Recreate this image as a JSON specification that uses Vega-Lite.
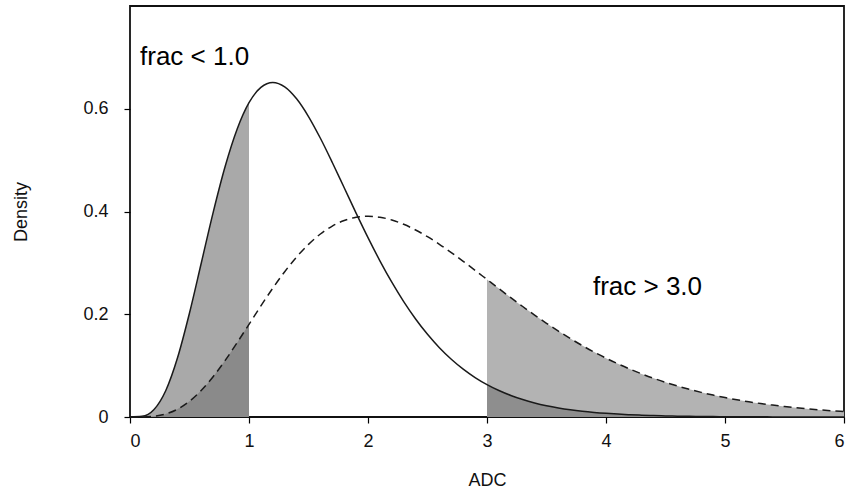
{
  "$schema": "https://vega.github.io/schema/vega-lite/v6.json",
  "width": 714,
  "height": 411,
  "autosize": {"type": "none"},
  "padding": {"left": 130, "top": 6, "right": 7, "bottom": 77},
  "background": "white",
  "config": {
    "view": {"stroke": "#111111", "strokeWidth": 1.8},
    "font": "Liberation Sans"
  },
  "datasets": {
    "curves": [
      {"x": 0.0, "solid": 0, "dashed": 0},
      {"x": 0.1, "solid": 0.00123, "dashed": 0.00011},
      {"x": 0.2, "solid": 0.01409, "dashed": 0.00143},
      {"x": 0.3, "solid": 0.05109, "dashed": 0.00593},
      {"x": 0.4, "solid": 0.11571, "dashed": 0.01534},
      {"x": 0.5, "solid": 0.20242, "dashed": 0.03066},
      {"x": 0.6, "solid": 0.30075, "dashed": 0.05205},
      {"x": 0.7, "solid": 0.39923, "dashed": 0.07894},
      {"x": 0.8, "solid": 0.488, "dashed": 0.11026},
      {"x": 0.9, "solid": 0.5601, "dashed": 0.1446},
      {"x": 1.0, "solid": 0.6117, "dashed": 0.18045},
      {"x": 1.1, "solid": 0.6417, "dashed": 0.2163},
      {"x": 1.2, "solid": 0.65124, "dashed": 0.25082},
      {"x": 1.3, "solid": 0.64271, "dashed": 0.28284},
      {"x": 1.4, "solid": 0.61943, "dashed": 0.31148},
      {"x": 1.5, "solid": 0.58489, "dashed": 0.33606},
      {"x": 1.6, "solid": 0.54252, "dashed": 0.35618},
      {"x": 1.7, "solid": 0.49542, "dashed": 0.37165},
      {"x": 1.8, "solid": 0.44619, "dashed": 0.38245},
      {"x": 1.9, "solid": 0.39688, "dashed": 0.38872},
      {"x": 2.0, "solid": 0.34914, "dashed": 0.39073},
      {"x": 2.1, "solid": 0.30409, "dashed": 0.38886},
      {"x": 2.2, "solid": 0.26245, "dashed": 0.38346},
      {"x": 2.3, "solid": 0.22464, "dashed": 0.37506},
      {"x": 2.4, "solid": 0.19084, "dashed": 0.36406},
      {"x": 2.5, "solid": 0.16099, "dashed": 0.35093},
      {"x": 2.6, "solid": 0.13495, "dashed": 0.33612},
      {"x": 2.7, "solid": 0.11246, "dashed": 0.32004},
      {"x": 2.8, "solid": 0.0932, "dashed": 0.30306},
      {"x": 2.9, "solid": 0.07684, "dashed": 0.28552},
      {"x": 3.0, "solid": 0.06306, "dashed": 0.26771},
      {"x": 3.1, "solid": 0.05151, "dashed": 0.2499},
      {"x": 3.2, "solid": 0.04191, "dashed": 0.23231},
      {"x": 3.3, "solid": 0.03396, "dashed": 0.21511},
      {"x": 3.4, "solid": 0.02742, "dashed": 0.19845},
      {"x": 3.5, "solid": 0.02206, "dashed": 0.18245},
      {"x": 3.6, "solid": 0.0177, "dashed": 0.1672},
      {"x": 3.7, "solid": 0.01415, "dashed": 0.15275},
      {"x": 3.8, "solid": 0.01128, "dashed": 0.13913},
      {"x": 3.9, "solid": 0.00897, "dashed": 0.12638},
      {"x": 4.0, "solid": 0.00711, "dashed": 0.1145},
      {"x": 4.1, "solid": 0.00562, "dashed": 0.10348},
      {"x": 4.2, "solid": 0.00444, "dashed": 0.0933},
      {"x": 4.3, "solid": 0.00349, "dashed": 0.08393},
      {"x": 4.4, "solid": 0.00274, "dashed": 0.07533},
      {"x": 4.5, "solid": 0.00215, "dashed": 0.06748},
      {"x": 4.6, "solid": 0.00168, "dashed": 0.06032},
      {"x": 4.7, "solid": 0.00131, "dashed": 0.05382},
      {"x": 4.8, "solid": 0.00102, "dashed": 0.04794},
      {"x": 4.9, "solid": 0.0008, "dashed": 0.04262},
      {"x": 5.0, "solid": 0.00062, "dashed": 0.03783},
      {"x": 5.1, "solid": 0.00048, "dashed": 0.03353},
      {"x": 5.2, "solid": 0.00037, "dashed": 0.02967},
      {"x": 5.3, "solid": 0.00029, "dashed": 0.02621},
      {"x": 5.4, "solid": 0.00022, "dashed": 0.02313},
      {"x": 5.5, "solid": 0.00017, "dashed": 0.02038},
      {"x": 5.6, "solid": 0.00013, "dashed": 0.01793},
      {"x": 5.7, "solid": 0.0001, "dashed": 0.01576},
      {"x": 5.8, "solid": 0.00008, "dashed": 0.01383},
      {"x": 5.9, "solid": 0.00006, "dashed": 0.01213},
      {"x": 6.0, "solid": 0.00005, "dashed": 0.01062}
    ],
    "labels": [
      {"x": 0.084, "y": 0.686, "label": "frac < 1.0"},
      {"x": 3.89, "y": 0.238, "label": "frac > 3.0"}
    ]
  },
  "encoding": {
    "x": {
      "field": "x",
      "type": "quantitative",
      "scale": {"domain": [0, 6], "nice": false, "zero": false},
      "axis": {
        "values": [0, 1, 2, 3, 4, 5, 6],
        "format": "d",
        "domain": false,
        "grid": false,
        "tickSize": 6,
        "tickColor": "black",
        "tickWidth": 1.2,
        "labelFontSize": 18,
        "labelColor": "#111111",
        "labelPadding": 9,
        "labelFont": "Liberation Sans",
        "title": "ADC",
        "titleFont": "Liberation Sans",
        "titleFontSize": 18,
        "titleFontWeight": "normal",
        "titleColor": "#111111",
        "titleY": 68,
        "titleBaseline": "alphabetic"
      }
    },
    "y": {
      "field": "y",
      "type": "quantitative",
      "scale": {"domain": [0, 0.8], "nice": false, "zero": true},
      "axis": {
        "values": [0, 0.2, 0.4, 0.6],
        "format": ".1~f",
        "domain": false,
        "grid": false,
        "tickSize": 6,
        "tickColor": "black",
        "tickWidth": 1.2,
        "labelFontSize": 18,
        "labelColor": "#111111",
        "labelPadding": 16,
        "labelFont": "Liberation Sans",
        "title": "Density",
        "titleFont": "Liberation Sans",
        "titleFontSize": 18,
        "titleFontWeight": "normal",
        "titleColor": "#111111",
        "titleAngle": -90,
        "titleX": -109,
        "titleY": 205.5,
        "titleAlign": "center",
        "titleBaseline": "middle"
      }
    }
  },
  "layer": [
    {
      "data": {"name": "curves"},
      "transform": [
        {"fold": ["solid", "dashed"], "as": ["curve", "y"]},
        {"filter": "datum.curve == 'solid' && datum.x <= 1"}
      ],
      "mark": {"type": "area", "color": "#a9a9a9", "interpolate": "monotone"}
    },
    {
      "data": {"name": "curves"},
      "transform": [
        {"fold": ["solid", "dashed"], "as": ["curve", "y"]},
        {"filter": "datum.curve == 'dashed' && datum.x >= 3"}
      ],
      "mark": {"type": "area", "color": "#b3b3b3", "interpolate": "monotone"}
    },
    {
      "data": {"name": "curves"},
      "transform": [
        {"fold": ["solid", "dashed"], "as": ["curve", "y"]},
        {"filter": "datum.curve == 'dashed' && datum.x <= 1"}
      ],
      "mark": {"type": "area", "color": "#8a8a8a", "interpolate": "monotone"}
    },
    {
      "data": {"name": "curves"},
      "transform": [
        {"fold": ["solid", "dashed"], "as": ["curve", "y"]},
        {"filter": "datum.curve == 'solid' && datum.x >= 3"}
      ],
      "mark": {"type": "area", "color": "#8e8e8e", "interpolate": "monotone"}
    },
    {
      "data": {"name": "curves"},
      "transform": [
        {"fold": ["solid", "dashed"], "as": ["curve", "y"]},
        {"filter": "datum.curve == 'solid'"}
      ],
      "mark": {"type": "line", "color": "#1a1a1a", "strokeWidth": 1.5, "interpolate": "monotone"}
    },
    {
      "data": {"name": "curves"},
      "transform": [
        {"fold": ["solid", "dashed"], "as": ["curve", "y"]},
        {"filter": "datum.curve == 'dashed'"}
      ],
      "mark": {"type": "line", "color": "#1a1a1a", "strokeWidth": 1.5, "strokeDash": [8, 5], "interpolate": "monotone"}
    },
    {
      "data": {"name": "labels"},
      "mark": {"type": "text", "align": "left", "baseline": "alphabetic", "fontSize": 26, "font": "Liberation Sans", "color": "black"},
      "encoding": {"text": {"field": "label", "type": "nominal"}}
    }
  ]
}
